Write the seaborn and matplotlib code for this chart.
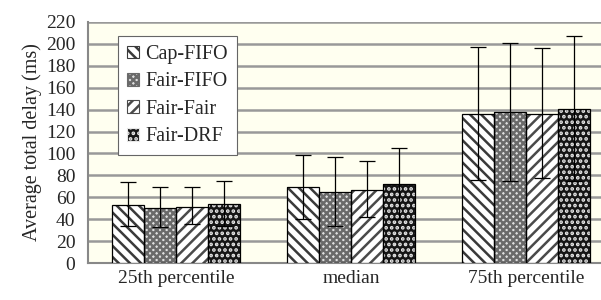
import matplotlib
matplotlib.use("Agg")
import matplotlib.pyplot as plt
from matplotlib.patches import Rectangle
import seaborn as sns
import pandas as pd
import numpy as np

categories = ["25th percentile", "median", "75th percentile"]
series = ["Cap-FIFO", "Fair-FIFO", "Fair-Fair", "Fair-DRF"]
values = {
    "Cap-FIFO":  [53, 69, 136],
    "Fair-FIFO": [50, 65, 138],
    "Fair-Fair": [51, 67, 136],
    "Fair-DRF":  [54, 72, 141],
}
err_low = {
    "Cap-FIFO":  [34, 40, 76],
    "Fair-FIFO": [33, 34, 75],
    "Fair-Fair": [36, 42, 78],
    "Fair-DRF":  [34, 40, 75],
}
err_high = {
    "Cap-FIFO":  [74, 99, 197],
    "Fair-FIFO": [69, 97, 201],
    "Fair-Fair": [69, 93, 196],
    "Fair-DRF":  [75, 105, 207],
}
yticks = list(range(0, 221, 20))

rows = []
for s in series:
    for c, v in zip(categories, values[s]):
        rows.append({"cat": c, "series": s, "val": v})
df = pd.DataFrame(rows)

sns.set_style("white")
plt.rcParams["font.family"] = ["Liberation Serif", "DejaVu Serif"]
plt.rcParams["hatch.linewidth"] = 1.8

fig = plt.figure(figsize=(6.01, 3.0), dpi=100)
ax = fig.add_axes([88 / 601, 1 - 263 / 300, (614 - 88) / 601, (263 - 22) / 300])
ax.set_facecolor("#FFFFF0")

sns.barplot(data=df, x="cat", y="val", hue="series", order=categories,
            hue_order=series, errorbar=None, width=0.73, ax=ax,
            edgecolor="black", linewidth=0.8, zorder=3, legend=True)

styles = {
    "Cap-FIFO":  dict(face="white", hatch="\\\\\\", hc="#3a3a3a"),
    "Fair-FIFO": dict(face="#e0e0e0", hatch="xxxxx", hc="#6a6a6a"),
    "Fair-Fair": dict(face="white", hatch="///", hc="#4a4a4a"),
    "Fair-DRF":  dict(face="#151515", hatch="...", hc="#e8e8e8"),
}

for s, cont in zip(series, ax.containers):
    st = styles[s]
    xs = []
    for p in cont.patches:
        p.set_facecolor(st["face"])
        p.set_hatch(st["hatch"])
        p.set_edgecolor(st["hc"])
        p.set_linewidth(0)
        ax.add_patch(Rectangle(p.get_xy(), p.get_width(), p.get_height(),
                               fill=False, edgecolor="black", linewidth=0.9,
                               zorder=3.5, transform=ax.transData))
        xs.append(p.get_x() + p.get_width() / 2)
    v = np.array(values[s])
    lo = v - np.array(err_low[s])
    hi = np.array(err_high[s]) - v
    ax.errorbar(xs, v, yerr=[lo, hi], fmt="none", ecolor="black",
                elinewidth=0.9, capsize=6, capthick=0.9, zorder=5)

ax.set_ylim(0, 220)
ax.set_yticks(yticks)
ax.set_yticklabels([str(t) for t in yticks], fontsize=14)
ax.yaxis.grid(True, color="#999999", linewidth=1.8, zorder=0)
ax.set_axisbelow(True)
ax.tick_params(axis="y", which="major", direction="out", length=8, width=1.5,
               color="#888888", pad=1)
ax.tick_params(axis="x", length=0, labelsize=14, pad=5)
ax.set_xlabel("")
ax.set_ylabel("Average total delay (ms)", fontsize=14.5, labelpad=3)
for side in ["top", "right"]:
    ax.spines[side].set_visible(False)
ax.spines["left"].set_color("#888888")
ax.spines["left"].set_linewidth(1.5)
ax.spines["bottom"].set_color("#888888")
ax.spines["bottom"].set_linewidth(1.5)

leg = ax.legend(loc="upper left", bbox_to_anchor=(0.057, 0.942), fontsize=14.5,
                frameon=True, fancybox=False, edgecolor="#666666",
                framealpha=1, handlelength=0.6, handleheight=0.6,
                handletextpad=0.3, labelspacing=0.42, borderpad=0.45,
                borderaxespad=0)
leg.get_frame().set_linewidth(0.8)
for h, s in zip(leg.legend_handles, series):
    h.set_facecolor(styles[s]["face"])
    h.set_hatch(styles[s]["hatch"])
    h.set_edgecolor(styles[s]["hc"])
    h.set_linewidth(0.8)

fig.savefig("out.png", dpi=100, facecolor="white")
